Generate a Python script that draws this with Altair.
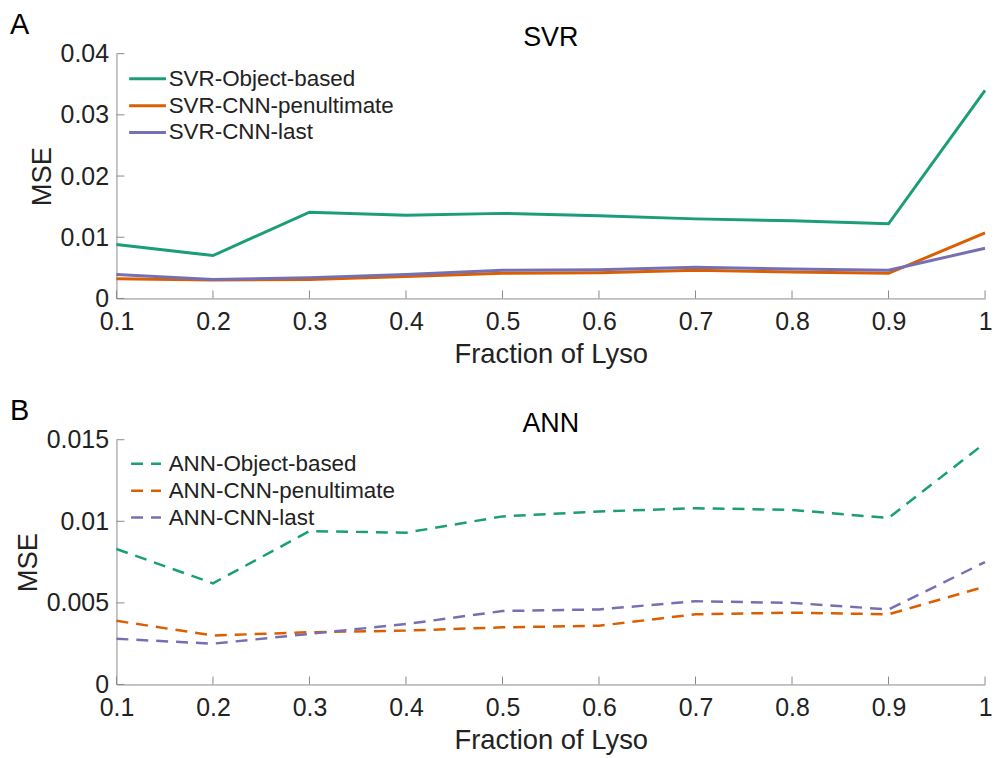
import altair as alt
import pandas as pd

FONT = "Liberation Sans"

fractions = [0.1, 0.2, 0.3, 0.4, 0.5, 0.6, 0.7, 0.8, 0.9, 1.0]

svr_names = ["SVR-Object-based", "SVR-CNN-penultimate", "SVR-CNN-last"]
svr_obj = [0.0088, 0.0070, 0.0141, 0.0136, 0.0139, 0.0135, 0.0130, 0.0127, 0.0122, 0.0340]
svr_pen = [0.0032, 0.0030, 0.0031, 0.0036, 0.0041, 0.0042, 0.0046, 0.0043, 0.0041, 0.0107]
svr_last = [0.0039, 0.0031, 0.0034, 0.0039, 0.0046, 0.0047, 0.0051, 0.0048, 0.0046, 0.0082]

ann_names = ["ANN-Object-based", "ANN-CNN-penultimate", "ANN-CNN-last"]
ann_obj = [0.0083, 0.0062, 0.0094, 0.0093, 0.0103, 0.0106, 0.0108, 0.0107, 0.0102, 0.0148]
ann_pen = [0.0039, 0.0030, 0.0032, 0.0033, 0.0035, 0.0036, 0.0043, 0.0044, 0.0043, 0.0060]
ann_last = [0.0028, 0.0025, 0.0031, 0.0037, 0.0045, 0.0046, 0.0051, 0.0050, 0.0046, 0.0075]

svr_yticks = [0, 0.01, 0.02, 0.03, 0.04]
ann_yticks = [0, 0.005, 0.01, 0.015]

colors = ["#1b9e77", "#d95f02", "#7570b3"]
AXIS_COLOR = "#8a8a8a"
TEXT_COLOR = "#222222"

W = 873
H = 246


def panel(letter, title, names, series, ymax, yticks, dashed):
    rows = []
    for name, vals in zip(names, series):
        for f, v in zip(fractions, vals):
            rows.append({"Fraction": f, "MSE": v, "Method": name})
    df = pd.DataFrame(rows)

    xscale = alt.Scale(domain=[0.1, 1.0], nice=False, zero=False)
    yscale = alt.Scale(domain=[0, ymax], nice=False, zero=True)
    xaxis = alt.Axis(values=fractions, labelExpr="toString(datum.value)", title="Fraction of Lyso",
                     ticks=False, tickSize=0, grid=False, labelPadding=11,
                     titlePadding=6, labelFlush=False)
    yaxis = alt.Axis(values=yticks, labelExpr="toString(datum.value)", title="MSE",
                     ticks=False, tickSize=0, grid=False, labelPadding=8,
                     titlePadding=4)

    legend_kwargs = dict(
        orient="none",
        legendX=20 if not dashed else 18.5,
        legendY=14 if not dashed else 13, title=None,
        labelFont=FONT, labelFontSize=22.5, labelColor=TEXT_COLOR, labelLimit=500,
        symbolType="M-2,0L2,0", symbolSize=342 if not dashed else 225,
        symbolStrokeWidth=3 if not dashed else 2.5,
        labelOffset=10 if not dashed else 11.5, rowPadding=4, padding=0,
    )
    mark_kwargs = dict(strokeWidth=3 if not dashed else 2.5)
    if dashed:
        legend_kwargs["symbolDash"] = [12, 8]
        mark_kwargs["strokeDash"] = [12, 8]

    lines = alt.Chart(df).mark_line(**mark_kwargs).encode(
        x=alt.X("Fraction:Q", scale=xscale, axis=xaxis),
        y=alt.Y("MSE:Q", scale=yscale, axis=yaxis),
        color=alt.Color("Method:N", sort=names,
                        scale=alt.Scale(domain=names, range=colors),
                        legend=alt.Legend(**legend_kwargs)),
    )

    xt = alt.Chart(pd.DataFrame({"Fraction": fractions})).mark_rule(color=AXIS_COLOR, strokeWidth=1).encode(
        x=alt.X("Fraction:Q", scale=xscale, axis=xaxis),
        y=alt.value(H), y2=alt.value(H - 8),
    )
    yt = alt.Chart(pd.DataFrame({"MSE": yticks})).mark_rule(color=AXIS_COLOR, strokeWidth=1).encode(
        y=alt.Y("MSE:Q", scale=yscale, axis=yaxis),
        x=alt.value(0), x2=alt.value(8),
    )
    letter_mark = alt.Chart(pd.DataFrame({"s": [letter]})).mark_text(
        align="left", baseline="alphabetic", fontSize=29, font=FONT, color="black"
    ).encode(x=alt.value(-107), y=alt.value(-20), text="s:N")
    title_mark = alt.Chart(pd.DataFrame({"s": [title]})).mark_text(
        align="center", baseline="alphabetic", fontSize=27, font=FONT, color="black"
    ).encode(x=alt.value(W / 2), y=alt.value(-8), text="s:N")

    return alt.layer(lines, xt, yt, letter_mark, title_mark).properties(width=W, height=H)


top = panel("A", "SVR", svr_names, [svr_obj, svr_pen, svr_last], 0.04, svr_yticks, False)
bottom = panel("B", "ANN", ann_names, [ann_obj, ann_pen, ann_last], 0.015, ann_yticks, True)

chart = alt.vconcat(top, bottom, spacing=29).resolve_scale(color="independent").properties(
    padding={"top": 1, "left": 2, "right": 0, "bottom": 0}
).configure_view(stroke=None).configure_axis(
    domainColor=AXIS_COLOR, domainWidth=1,
    labelFont=FONT, labelFontSize=25, labelColor=TEXT_COLOR,
    titleFont=FONT, titleFontSize=27.5, titleFontWeight="normal", titleColor=TEXT_COLOR,
)

chart.save("out.html", embed_options={"renderer": "svg", "actions": False})
